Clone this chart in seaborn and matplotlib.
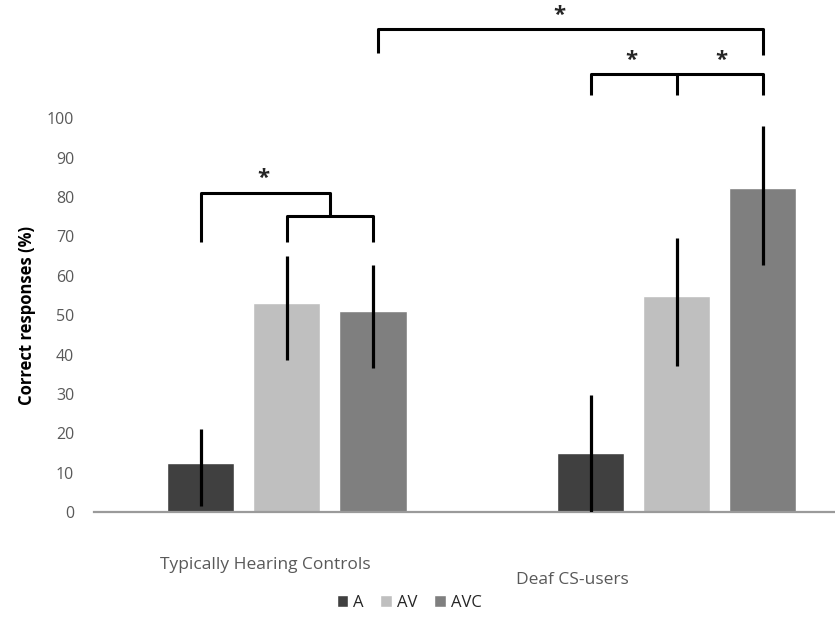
import pandas as pd
import seaborn as sns
from matplotlib import pyplot as plt

# duomenys nuskaityti nuo paveikslo
grupes = ['Typically Hearing Controls', 'Deaf CS-users']
salygos = ['A', 'AV', 'AVC']
thc_vidurkiai = [12.5, 53.0, 51.1]
deaf_vidurkiai = [15.1, 54.9, 82.3]
thc_apacia = [1.5, 38.5, 36.5]
thc_virsus = [21.2, 64.9, 62.8]
deaf_apacia = [0.0, 37.1, 62.8]
deaf_virsus = [29.7, 69.6, 97.9]
spalvos = ['#404040', '#bfbfbf', '#7f7f7f']

sns.set_theme(style='white')
plt.rcParams['font.family'] = ['Open Sans', 'DejaVu Sans']

df = pd.DataFrame({
    'grupe': [g for g in grupes for _ in salygos],
    'salyga': salygos * 2,
    'vidurkis': thc_vidurkiai + deaf_vidurkiai,
    'apacia': thc_apacia + deaf_apacia,
    'virsus': thc_virsus + deaf_virsus,
})

fig = plt.figure(figsize=(8.35, 6.3), dpi=100)
ax = fig.add_axes([0.112, 0.187, 0.888, 0.6254])

sns.barplot(data=df, x='grupe', y='vidurkis', hue='salyga', palette=spalvos,
            width=0.663, gap=0.22, errorbar=None, saturation=1, ax=ax, legend=True)

# stulpeliu centrai (seaborn tvarka: pagal hue, tada pagal x)
centrai = {}
for i, s in enumerate(salygos):
    for j, g in enumerate(grupes):
        p = ax.patches[i * len(grupes) + j]
        centrai[(g, s)] = p.get_x() + p.get_width() / 2

xs = [centrai[(g, s)] for g, s in zip(df['grupe'], df['salyga'])]
ax.errorbar(xs, df['vidurkis'],
            yerr=[df['vidurkis'] - df['apacia'], df['virsus'] - df['vidurkis']],
            fmt='none', ecolor='black', elinewidth=2.3, capsize=0, zorder=3)

ax.set_ylim(0, 100)
ax.set_xlim(-0.496, 1.406)
ax.set_yticks(range(0, 101, 10))
ax.tick_params(axis='y', labelsize=11.5, labelcolor='#595959', pad=14, length=0)
ax.tick_params(axis='x', length=0)
ax.set_xticklabels(['', ''])
ax.set_xlabel('')
ax.set_ylabel('Correct responses (%)', fontsize=12, fontweight='bold', color='black', labelpad=8)
for k in ['left', 'right', 'top']:
    ax.spines[k].set_visible(False)
ax.spines['bottom'].set_color('#9a9a9a')
ax.spines['bottom'].set_linewidth(1.6)

# grupiu pavadinimai (kaip originale, pasislinke)
ax.text(-0.055, -0.134, grupes[0], transform=ax.get_xaxis_transform(),
        ha='center', va='center', fontsize=12.5, color='#595959')
ax.text(0.732, -0.173, grupes[1], transform=ax.get_xaxis_transform(),
        ha='center', va='center', fontsize=12.5, color='#595959')

# reiksmingumo skliaustai
lw = 2.2
kw = dict(color='black', lw=lw, clip_on=False, solid_capstyle='butt')
t_a, t_av, t_avc = (centrai[(grupes[0], s)] for s in salygos)
d_a, d_av, d_avc = (centrai[(grupes[1], s)] for s in salygos)
vid = (t_av + t_avc) / 2
zv = dict(ha='center', va='center', fontsize=16, fontweight='bold', clip_on=False)
# THC
ax.plot([t_a, t_a, vid, vid], [68.6, 81.1, 81.1, 75.3], **kw)
ax.plot([t_av, t_av, t_avc, t_avc], [68.6, 75.3, 75.3, 68.6], **kw)
ax.text((t_a + vid) / 2 - 0.005, 84.6, '*', **zv)
# Deaf
ax.plot([d_a, d_a, d_avc, d_avc], [105.9, 111.2, 111.2, 105.9], **kw)
ax.plot([d_av, d_av], [105.9, 111.2], **kw)
ax.text((d_a + d_av) / 2 - 0.005, 114.6, '*', **zv)
ax.text((d_av + d_avc) / 2 + 0.005, 114.6, '*', **zv)
# tarp grupiu
ax.plot([t_avc + 0.012, t_avc + 0.012, d_avc, d_avc], [116.5, 122.7, 122.7, 116.1], **kw)
ax.text(0.70, 126.0, '*', **zv)

h, l = ax.get_legend_handles_labels()
ax.get_legend().remove()
fig.legend(h, l, loc='center', bbox_to_anchor=(0.49, 0.043), ncol=3, frameon=False,
           fontsize=12, handlelength=0.7, handleheight=0.7, handletextpad=0.3,
           columnspacing=1.0)

plt.savefig('out.png', dpi=100)
